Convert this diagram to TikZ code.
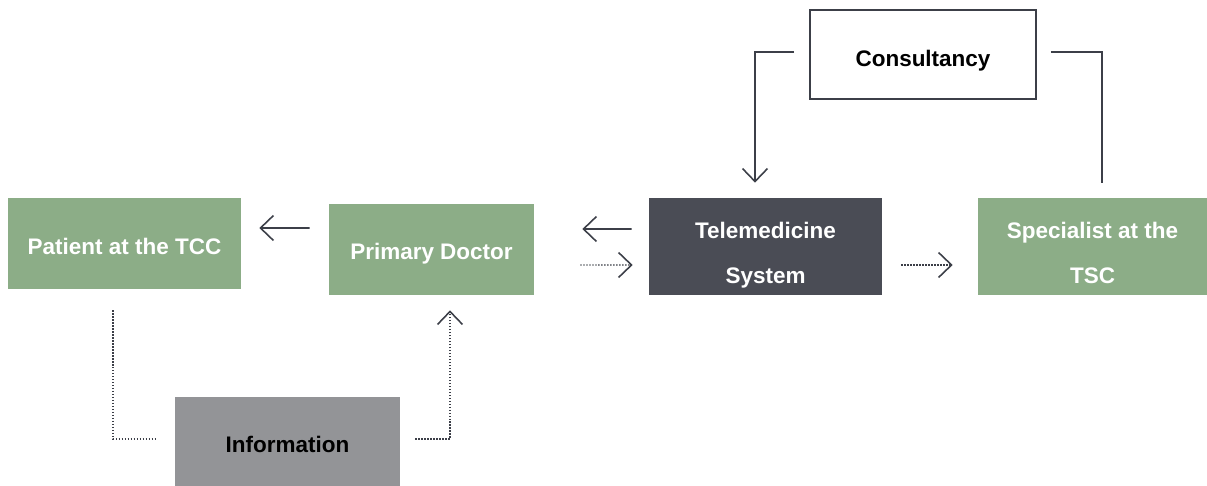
\documentclass[tikz,border=0pt]{standalone}
\usepackage{fontspec}
\setmainfont{Liberation Sans}
\usetikzlibrary{arrows.meta}

\definecolor{verde}{HTML}{8CAD87}
\definecolor{scuro}{HTML}{4A4C55}
\definecolor{grigio}{HTML}{939497}
\definecolor{linea}{HTML}{3C3F48}

\tikzset{
    box/.style={inner sep=0pt, align=center, text depth=2pt, text height=14pt, font=\bfseries\fontsize{12.8}{25.6}\selectfont},
    duerighe/.style={text height=44.6pt},
    boxverde/.style={box, fill=verde, text=white},
    boxscuro/.style={box, fill=scuro, text=white},
    boxgrigio/.style={box, fill=grigio, text=black},
    boxbianco/.style={box, draw=linea, line width=0.9pt, fill=white, text=black, text height=16.2pt},
    freccia/.style={draw=linea, line width=0.9pt, -{Straight Barb[length=2.6mm, width=5mm, line width=0.9pt]}},
    linea/.style={draw=linea, line width=0.9pt},
    puntini/.style={draw=linea, line width=0.8pt, dash pattern=on 0.8pt off 0.9pt},
    frecciapunti/.style={puntini, -{Straight Barb[length=2.6mm, width=5mm, line width=0.9pt]}}
}

\begin{document}
\begin{tikzpicture}[x=0.02cm, y=-0.02cm]
        \useasboundingbox (0,0) rectangle (1207,486);

        %%%%%%%%% Riquadri %%%%%%%%%
        \node[boxverde, minimum width=4.66cm, minimum height=1.82cm] (paziente) at (124.5,243.5) {Patient at the TCC};
        \node[boxverde, minimum width=4.1cm, minimum height=1.82cm, text height=13pt] (medico) at (431.5,249.5) {Primary Doctor};
        \node[boxscuro, duerighe, minimum width=4.66cm, minimum height=1.94cm] (sistema) at (765.5,246.5) {Telemedicine\\System};
        \node[boxverde, duerighe, minimum width=4.58cm, minimum height=1.94cm] (specialista) at (1092.5,246.5) {Specialist at the\\TSC};
        \node[boxbianco, minimum width=4.52cm, minimum height=1.78cm] (consulenza) at (923,54.5) {Consultancy};
        \node[boxgrigio, minimum width=4.5cm, minimum height=1.78cm] (info) at (287.5,441.5) {Information};

        %%%%%%%%% Frecce orizzontali %%%%%%%%%
        \draw[freccia] ([xshift=-0.38cm, yshift=0.43cm]medico.west) -- ([xshift=0.36cm, yshift=0.31cm]paziente.east);
        \draw[freccia] ([xshift=-0.34cm, yshift=0.35cm]sistema.west) -- ([xshift=0.96cm, yshift=0.41cm]medico.east);
        \draw[frecciapunti] ([xshift=0.92cm, yshift=-0.31cm]medico.east) -- ([xshift=-0.32cm, yshift=-0.37cm]sistema.west);
        \draw[frecciapunti] ([xshift=0.38cm, yshift=-0.37cm]sistema.east) -- ([xshift=-0.5cm, yshift=-0.37cm]specialista.west);

        %%%%%%%%% Consulenza %%%%%%%%%
        \draw[freccia] ([xshift=-0.3cm, yshift=0.05cm]consulenza.west) -| ([xshift=-0.21cm, yshift=0.3cm]sistema.north);
        \draw[linea] ([xshift=0.28cm, yshift=0.05cm]consulenza.east) -| ([xshift=0.19cm, yshift=0.3cm]specialista.north);

        %%%%%%%%% Informazioni %%%%%%%%%
        \draw[puntini] ([xshift=-0.23cm, yshift=-0.42cm]paziente.south) |- ([xshift=-0.36cm, yshift=0.05cm]info.west);
        \draw[frecciapunti] ([xshift=0.3cm, yshift=0.05cm]info.east) -| ([xshift=0.37cm, yshift=-0.3cm]medico.south);
\end{tikzpicture}
\end{document}
